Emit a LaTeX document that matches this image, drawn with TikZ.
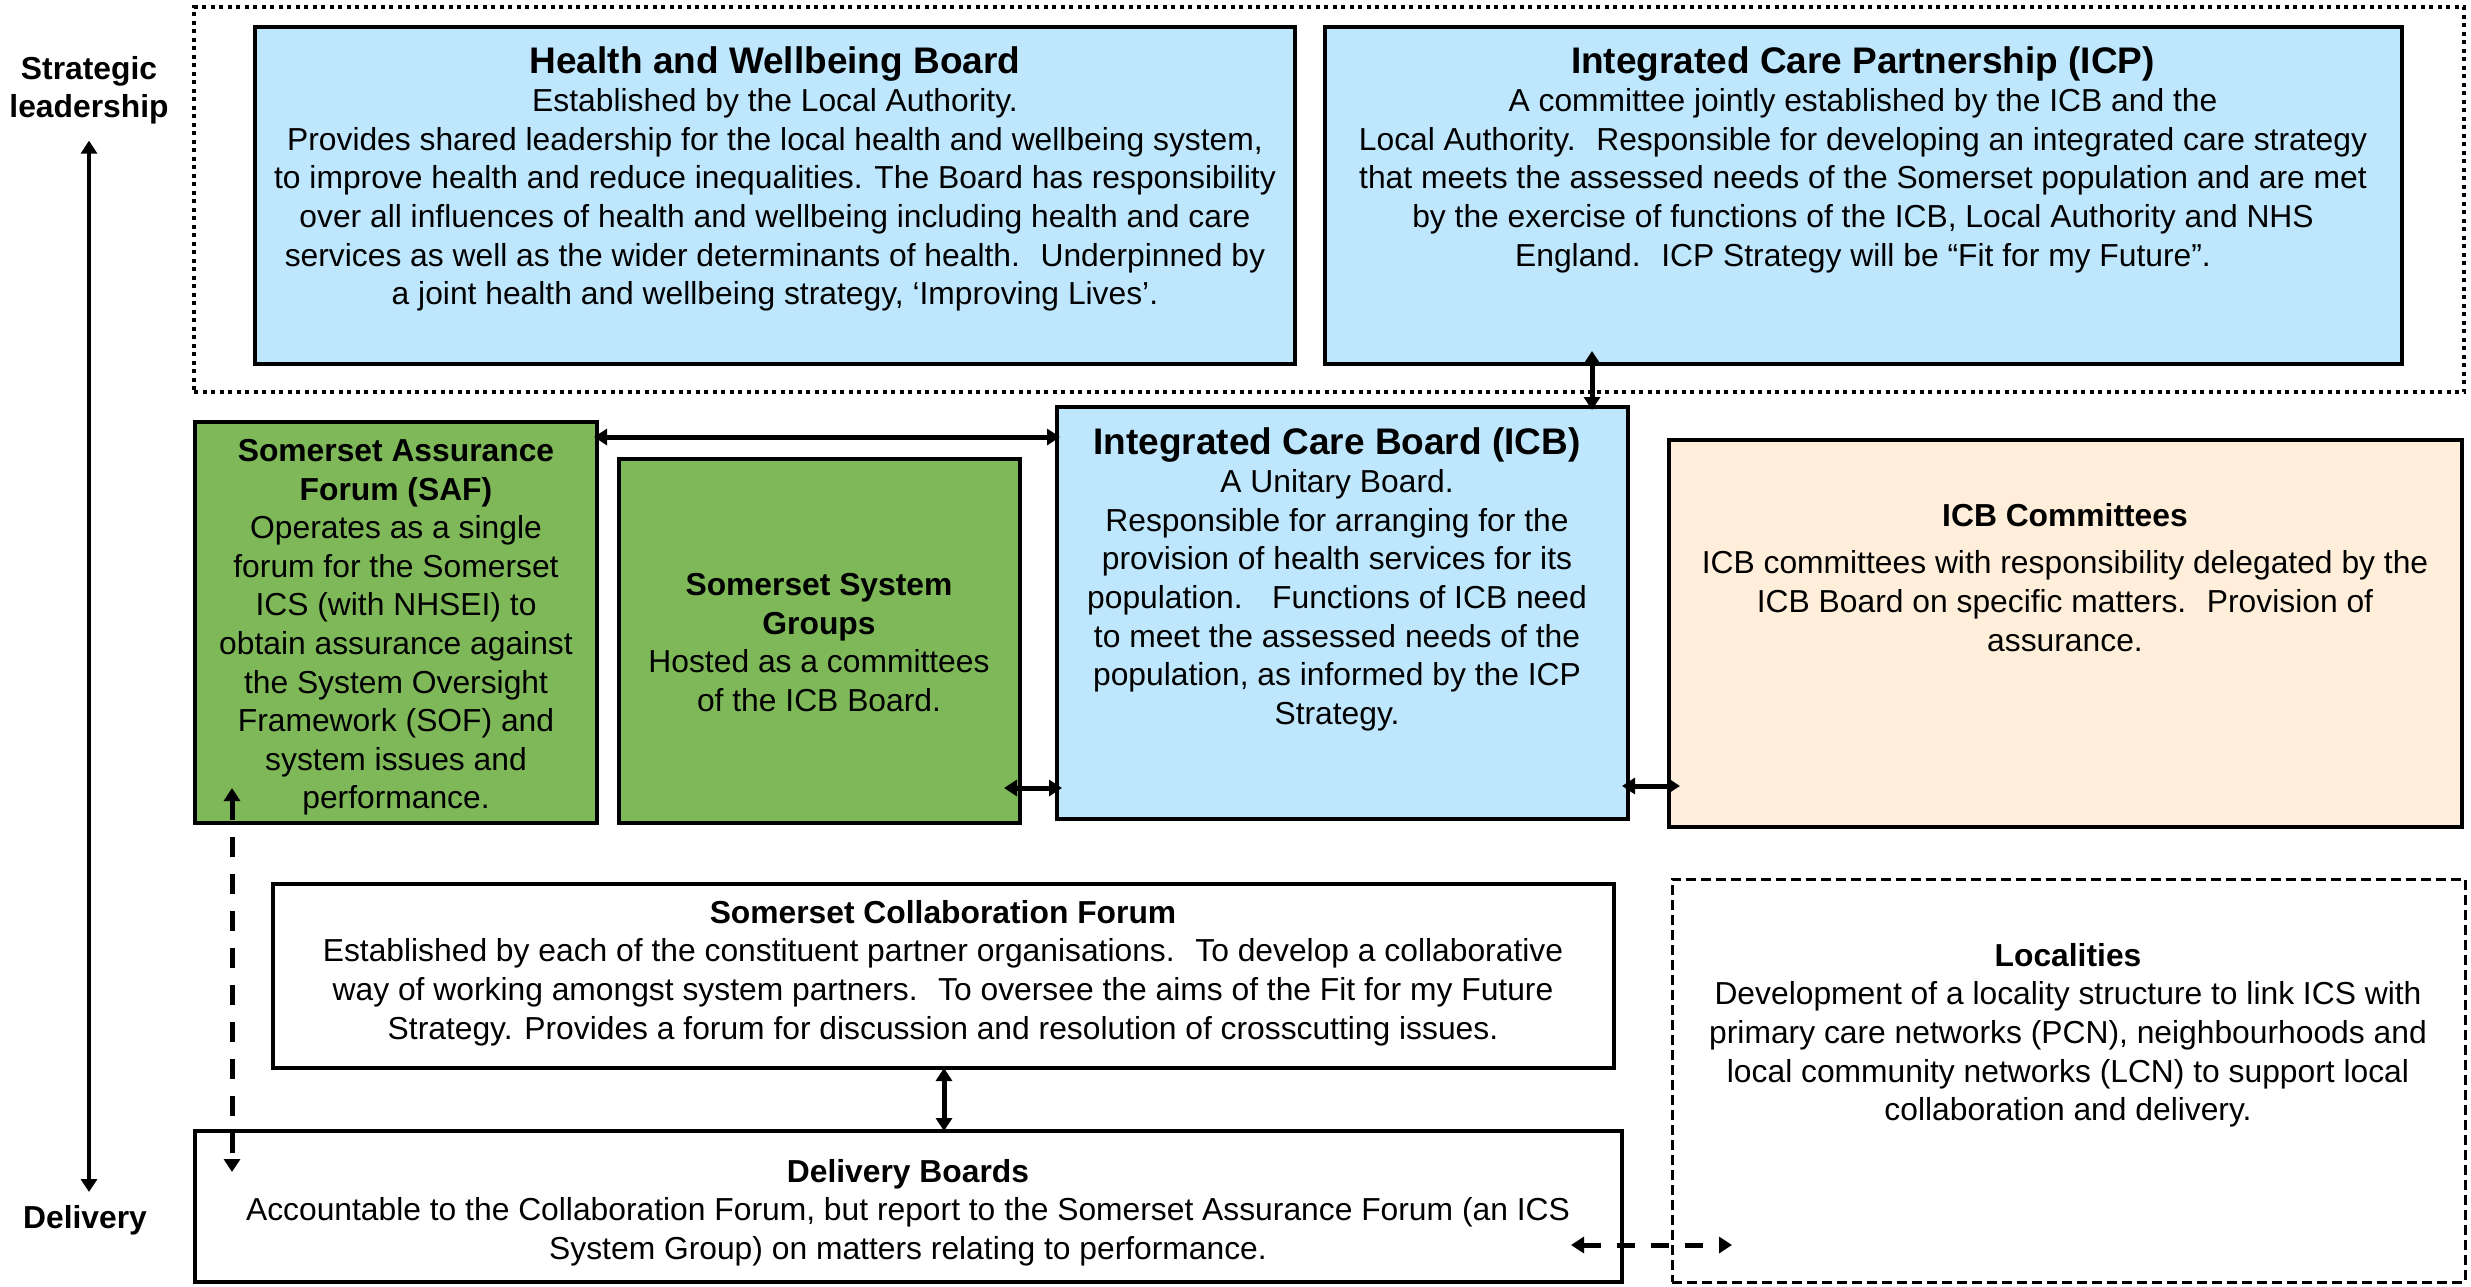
\documentclass[tikz,border=0pt]{standalone}
\usepackage{fontspec}
\setmainfont{Liberation Sans}
\usetikzlibrary{arrows.meta}
\definecolor{bluefill}{RGB}{190,230,253}
\definecolor{greenfill}{RGB}{126,184,88}
\definecolor{peachfill}{RGB}{255,238,218}
\newcommand\bigttl[1]{{\bfseries\fontsize{37}{38.6}\selectfont #1}}
\newcommand\smttl[1]{{\bfseries #1}}
\begin{document}
\begin{tikzpicture}[x=1pt,y=-1pt,
  box/.style={draw=black, line width=4pt, anchor=north west, inner sep=0pt, outer sep=0pt},
  txt/.style={anchor=north, align=center, inner sep=0pt, font=\fontsize{31.8}{38.6}\selectfont},
  tipx/.tip={Triangle[width=16pt,length=13pt]},
  biarrow/.style={line width=5pt, tipx-tipx},
  dasharrow/.style={biarrow, dash pattern=on 20pt off 17pt},
]
\useasboundingbox (0,0) rectangle (2471,1286);

% dotted strategic region
\node[draw=black, line width=4pt, dash pattern=on 4pt off 4.5pt, anchor=north west, inner sep=0pt,
      minimum width=2270pt, minimum height=385pt] (lead) at (192,5) {};

% boxes
\node[box, fill=bluefill, minimum width=1040pt, minimum height=337pt] (hwb) at (255,27) {};
\node[box, fill=bluefill, minimum width=1077pt, minimum height=337pt] (icp) at (1325,27) {};
\node[box, fill=greenfill, minimum width=402pt, minimum height=401pt] (saf) at (195,422) {};
\node[box, fill=greenfill, minimum width=401pt, minimum height=364pt] (ssg) at (619,459) {};
\node[box, fill=bluefill, minimum width=571pt, minimum height=412pt] (icb) at (1057,407) {};
\node[box, fill=peachfill, minimum width=793pt, minimum height=387pt] (com) at (1669,440) {};
\node[box, minimum width=1341pt, minimum height=184pt] (col) at (273,884) {};
\node[box, line width=3pt, dash pattern=on 10pt off 5pt, minimum width=793pt, minimum height=403pt] (loc) at (1672,879) {};
\node[box, minimum width=1427pt, minimum height=151pt] (del) at (195,1131) {};

% texts
\node[txt] (hwbt) at (775,46) {\bigttl{Health and Wellbeing Board}\\
Established by the Local Authority.\\
Provides shared leadership for the local health and wellbeing system,\\
to improve health and reduce inequalities. The Board has responsibility\\
over all influences of health and wellbeing including health and care\\
services as well as the wider determinants of health.~ Underpinned by\\
a joint health and wellbeing strategy, ‘Improving Lives’.};

\node[txt] (icpt) at (1863,46) {\bigttl{Integrated Care Partnership (ICP)}\\
A committee jointly established by the ICB and the\\
Local Authority.~ Responsible for developing an integrated care strategy\\
that meets the assessed needs of the Somerset population and are met\\
by the exercise of functions of the ICB, Local Authority and NHS\\
England.~ ICP Strategy will be “Fit for my Future”.};

\node[txt] (saft) at (396,439) {\smttl{Somerset Assurance}\\
\smttl{Forum (SAF)}\\
Operates as a single\\
forum for the Somerset\\
ICS (with NHSEI) to\\
obtain assurance against\\
the System Oversight\\
Framework (SOF) and\\
system issues and\\
performance.};

\node[txt] (ssgt) at (819,573) {\smttl{Somerset System}\\
\smttl{Groups}\\
Hosted as a committees\\
of the ICB Board.};

\node[txt] (icbt) at (1337,427) {\bigttl{Integrated Care Board (ICB)}\\
A Unitary Board.\\
Responsible for arranging for the\\
provision of health services for its\\
population.~~ Functions of ICB need\\
to meet the assessed needs of the\\
population, as informed by the ICP\\
Strategy.};

\node[txt] (comt) at (2065,503) {\smttl{ICB Committees}\\[9pt]
ICB committees with responsibility delegated by the\\
ICB Board on specific matters.~ Provision of\\
assurance.};

\node[txt] (colt) at (943,900) {\smttl{Somerset Collaboration Forum}\\
Established by each of the constituent partner organisations.~ To develop a collaborative\\
way of working amongst system partners.~ To oversee the aims of the Fit for my Future\\
Strategy. Provides a forum for discussion and resolution of crosscutting issues.};

\node[txt] (loct) at (2068,943) {\smttl{Localities}\\
Development of a locality structure to link ICS with\\
primary care networks (PCN), neighbourhoods and\\
local community networks (LCN) to support local\\
collaboration and delivery.};

\node[txt] (delt) at (908,1159) {\smttl{Delivery Boards}\\
Accountable to the Collaboration Forum, but report to the Somerset Assurance Forum (an ICS\\
System Group) on matters relating to performance.};

% axis labels
\node[txt] (sl) at (89,56) {\smttl{Strategic}\\ \smttl{leadership}};
\node[txt] (dl) at (85,1205) {\smttl{Delivery}};
\draw[line width=4.5pt, tipx-tipx, shorten <=16pt, shorten >=13pt] (sl.south) -- (sl.south |- dl.north);

% connectors
\coordinate (ya) at (0,437);
\draw[biarrow, shorten <=-3pt, shorten >=-3pt] (saf.east |- ya) -- (icb.west |- ya);
\coordinate (yb) at (0,788);
\draw[biarrow, shorten <=-16pt, shorten >=-5pt] (ssg.east |- yb) -- (icb.west |- yb);
\coordinate (xc) at (1592,0);
\draw[biarrow, shorten <=-13pt, shorten >=-3pt] (icp.south -| xc) -- (icb.north -| xc);
\coordinate (yd) at (0,786);
\draw[biarrow, shorten <=-6pt, shorten >=-11pt] (icb.east |- yd) -- (com.west |- yd);
\coordinate (xe) at (944,0);
\draw[biarrow] (col.south -| xe) -- (del.north -| xe);
\coordinate (xf) at (232,0);
\draw[dasharrow, shorten <=-35pt, shorten >=-41pt] (saf.south -| xf) -- (del.north -| xf);
\coordinate (yg) at (0,1245);
\draw[dasharrow, dash pattern=on 18pt off 16pt, shorten <=-51pt, shorten >=-60pt] (del.east |- yg) -- (loc.west |- yg);
\end{tikzpicture}
\end{document}
